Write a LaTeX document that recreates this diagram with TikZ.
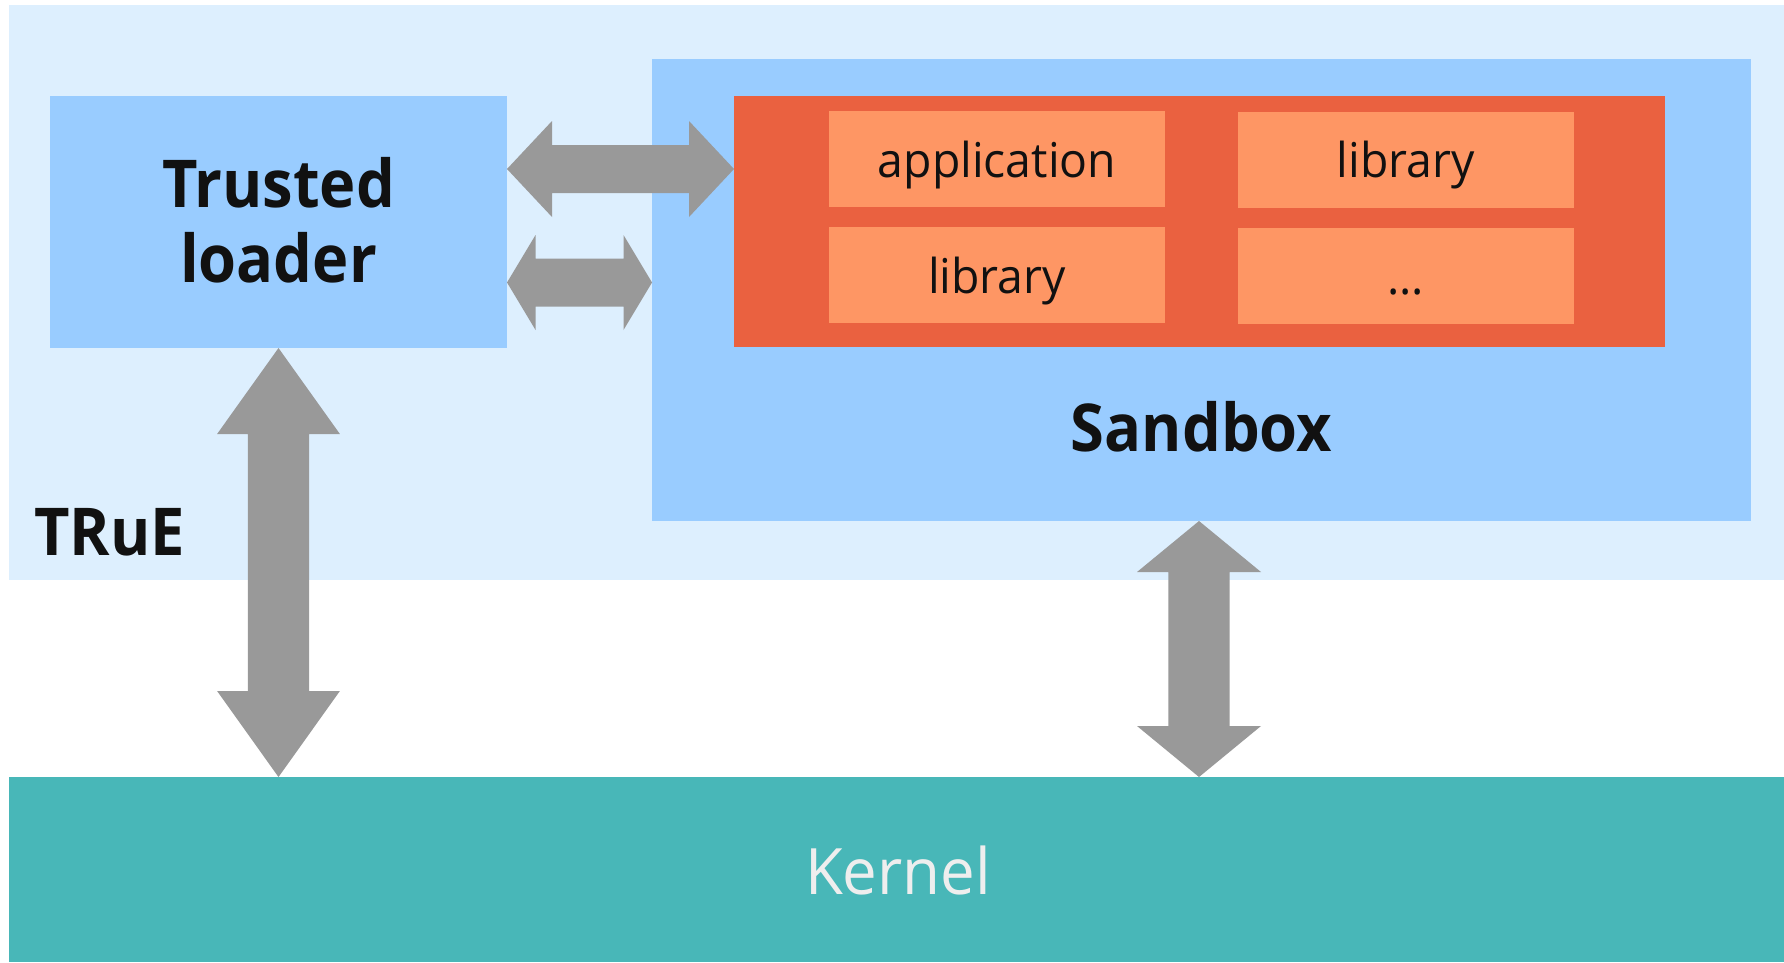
\documentclass[tikz,border=0pt]{standalone}
\usepackage{fontspec}
\setmainfont{Open Sans}
\newfontfamily\labelbold{Open Sans}[FakeStretch=0.93]
\newfontfamily\labelplain{Open Sans}[FakeStretch=0.965]
\usetikzlibrary{calc}

\definecolor{trueback}{HTML}{DDEFFE}
\definecolor{panelblue}{HTML}{99CCFF}
\definecolor{enclavered}{HTML}{EA6140}
\definecolor{itemorange}{HTML}{FE9664}
\definecolor{conngrey}{HTML}{999999}
\definecolor{kernelteal}{HTML}{48B7B8}
\definecolor{kerneltext}{HTML}{EEEEEE}
\definecolor{labelink}{HTML}{111111}

% horizontal double-headed block arrow: #1 left end, #2 right end,
% #3 half shaft width, #4 half head width, #5 head length
\newcommand\hconn[5]{%
  \fill[conn] let \p1=(#1), \p2=(#2) in
    (\x1,\y1) -- (\x1+#5,\y1+#4) -- (\x1+#5,\y1+#3) -- (\x2-#5,\y1+#3)
    -- (\x2-#5,\y1+#4) -- (\x2,\y1) -- (\x2-#5,\y1-#4) -- (\x2-#5,\y1-#3)
    -- (\x1+#5,\y1-#3) -- (\x1+#5,\y1-#4) -- cycle;}
% vertical double-headed block arrow: #1 top end, #2 bottom end
\newcommand\vconn[5]{%
  \fill[conn] let \p1=(#1), \p2=(#2) in
    (\x1,\y1) -- (\x1+#4,\y1-#5) -- (\x1+#3,\y1-#5) -- (\x1+#3,\y2+#5)
    -- (\x1+#4,\y2+#5) -- (\x1,\y2) -- (\x1-#4,\y2+#5) -- (\x1-#3,\y2+#5)
    -- (\x1-#3,\y1-#5) -- (\x1-#4,\y1-#5) -- cycle;}

\tikzset{
  panel/.style={rectangle, draw=none, anchor=north west, inner sep=0pt, outer sep=0pt},
  item/.style={rectangle, fill=itemorange, minimum width=336pt, minimum height=96pt,
    inner sep=0pt, text height=36pt, text depth=0pt, text=labelink,
    font=\labelplain\fontsize{48}{58}\selectfont},
  boldlabel/.style={inner sep=0pt, text=labelink, font=\labelbold\fontsize{66}{75}\selectfont\bfseries},
  conn/.style={fill=conngrey},
}

\begin{document}
\begin{tikzpicture}[x=1pt,y=-1pt]
\useasboundingbox[fill=white] (0,0) rectangle (1784,962);

% background regions
\node[panel, fill=trueback, minimum width=1775pt, minimum height=575pt] (trueregion) at (9,5) {};
\node[panel, fill=panelblue, minimum width=1099pt, minimum height=462pt] (sandbox) at (652,59) {};
\node[panel, fill=panelblue, minimum width=457pt, minimum height=252pt] (loader) at (50,96) {};
\node[panel, fill=enclavered, minimum width=931pt, minimum height=251pt] (enclave) at (734,96) {};
\node[panel, fill=kernelteal, minimum width=1775pt, minimum height=185pt] (kernel) at (9,777) {};

% contents of the sandbox
\node[item] (app)  at (997,159)    {application};
\node[item] (libA) at (1405.5,159.5) {library};
\node[item] (libB) at (997,275)    {library};
\node[item] (more) at (1405.5,276) {...};

% labels
\node[boldlabel, anchor=base] (trustedA) at (278.5,207.8) {Trusted};
\node[boldlabel, anchor=base] (trustedB) at (278.5,282.4) {loader};
\node[boldlabel, anchor=base] (sandboxlabel) at (1201.5,451.6) {Sandbox};
\node[boldlabel, anchor=base west] (truelabel) at (34,555) {TRuE};
\node[anchor=base, inner sep=0pt, text=kerneltext, font=\labelplain\fontsize{64}{74}\selectfont] (kernellabel) at (898,894) {Kernel};

% connectors
\coordinate (upA) at ([yshift=53pt]loader.east);
\coordinate (upB) at (enclave.west |- upA);
\hconn{upA}{upB}{24pt}{48pt}{45pt}

\coordinate (lowA) at ([yshift=-60.5pt]loader.east);
\coordinate (lowB) at (sandbox.west |- lowA);
\hconn{lowA}{lowB}{24pt}{47.5pt}{28.5pt}

\coordinate (ldrK) at (kernel.north -| loader.south);
\vconn{loader.south}{ldrK}{30.7pt}{61.4pt}{86pt}

\coordinate (sbxA) at ([xshift=-2.5pt]sandbox.south);
\coordinate (sbxK) at (kernel.north -| sbxA);
\vconn{sbxA}{sbxK}{30.6pt}{62pt}{51pt}
\end{tikzpicture}
\end{document}
